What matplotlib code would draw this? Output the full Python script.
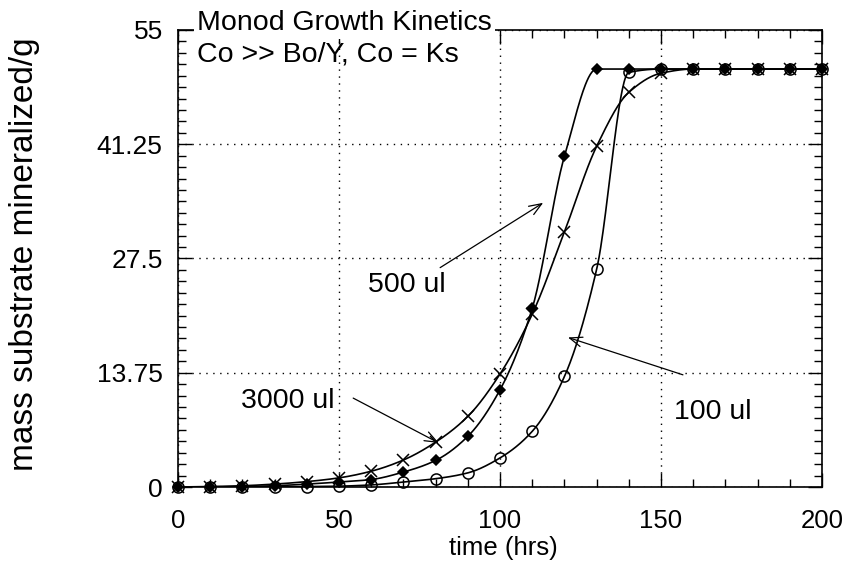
import numpy as np
import matplotlib.pyplot as plt
from matplotlib.ticker import MultipleLocator

# Data
t = np.arange(0, 201, 10)
m500 = [0, 0.02, 0.05, 0.15, 0.35, 0.6, 0.9, 1.8, 3.2, 6.1, 11.7, 21.5, 39.8, 50.3,
        50.3, 50.3, 50.3, 50.3, 50.3, 50.3, 50.3]
m3000 = [0, 0.05, 0.15, 0.35, 0.65, 1.1, 1.9, 3.25, 5.4, 8.5, 13.6, 20.8, 30.7, 41.0,
         47.5, 49.8, 50.3, 50.3, 50.3, 50.3, 50.3]
m100 = [0, 0, 0.01, 0.02, 0.05, 0.1, 0.25, 0.6, 1.0, 1.7, 3.5, 6.7, 13.3, 26.2,
        49.9, 50.3, 50.3, 50.3, 50.3, 50.3, 50.3]
yticks = [0, 13.75, 27.5, 41.25, 55]


def pchip(x, y, xn):
    # monotone cubic through the measured points, only used to draw the curve
    x = np.asarray(x, float)
    y = np.asarray(y, float)
    h = np.diff(x)
    d = np.diff(y) / h
    m = np.zeros_like(y)
    for k in range(1, len(x) - 1):
        if d[k - 1] * d[k] > 0:
            w1 = 2 * h[k] + h[k - 1]
            w2 = h[k] + 2 * h[k - 1]
            m[k] = (w1 + w2) / (w1 / d[k - 1] + w2 / d[k])
    m[0] = d[0]
    m[-1] = d[-1]
    i = np.clip(np.searchsorted(x, xn) - 1, 0, len(x) - 2)
    s = (xn - x[i]) / h[i]
    h00 = 2 * s ** 3 - 3 * s ** 2 + 1
    h10 = s ** 3 - 2 * s ** 2 + s
    h01 = -2 * s ** 3 + 3 * s ** 2
    h11 = s ** 3 - s ** 2
    return h00 * y[i] + h10 * h[i] * m[i] + h01 * y[i + 1] + h11 * h[i] * m[i + 1]


plt.rcParams['font.family'] = ['Liberation Sans', 'DejaVu Sans']
fig = plt.figure(figsize=(8.53, 5.69), dpi=100)
ax = fig.add_axes([0.2087, 0.1441, 0.755, 0.8032])

tt = np.linspace(0, 200, 801)
for vals, mk, ms, mfc in [(m100, 'o', 8, 'none'), (m3000, 'x', 9, 'k'), (m500, 'D', 5, 'k')]:
    ax.plot(tt, pchip(t, vals, tt), color='k', linewidth=1.2)
    ax.plot(t, vals, linestyle='none', marker=mk, markersize=ms, markerfacecolor=mfc,
            markeredgecolor='k', markeredgewidth=1.1, clip_on=False)

ax.set_xlim(0, 200)
ax.set_ylim(0, 55)
ax.set_xticks([0, 50, 100, 150, 200])
ax.set_yticks(yticks)
ax.set_yticklabels(['0', '13.75', '27.5', '41.25', '55'])
ax.xaxis.set_minor_locator(MultipleLocator(10))
ax.yaxis.set_minor_locator(MultipleLocator(1.375))
ax.tick_params(which='both', direction='in', top=True, right=True, width=1)
ax.tick_params(which='major', length=10, labelsize=19)
ax.tick_params(axis='x', which='major', pad=16, labelsize=18.5)
ax.tick_params(axis='y', which='major', pad=11)
ax.tick_params(which='minor', length=6)
for s in ax.spines.values():
    s.set_linewidth(1.2)
ax.grid(True, which='major', color='k', linestyle=(0, (1, 4)), linewidth=1)

ax.set_xlabel('time (hrs)', fontsize=18.5)
ax.xaxis.set_label_coords(0.505, -0.108)
ax.set_ylabel('mass substrate mineralized/g', fontsize=24)
ax.yaxis.set_label_coords(-0.215, 0.51)

ax.text(0.0295, 1.0, 'Monod Growth Kinetics', transform=ax.transAxes, fontsize=20.5,
        ha='left', va='baseline', zorder=5,
        bbox=dict(facecolor='white', edgecolor='none', pad=2))
ax.text(0.0295, 0.93, 'Co >> Bo/Y, Co = Ks', transform=ax.transAxes, fontsize=20.5,
        ha='left', va='baseline', zorder=5)

arrow = dict(arrowstyle='->,head_length=0.9,head_width=0.35', color='k', linewidth=0.9,
             shrinkA=0, shrinkB=0)
ax.annotate('', xy=(113.4, 34.2), xytext=(81.4, 26.4), arrowprops=arrow)
ax.text(71, 24.3, '500 ul', fontsize=20.5, ha='center', va='center')
ax.annotate('', xy=(81.0, 5.3), xytext=(54.4, 10.7), arrowprops=arrow)
ax.text(34.2, 10.4, '3000 ul', fontsize=20.5, ha='center', va='center')
ax.annotate('', xy=(121.1, 18.0), xytext=(156.8, 13.5), arrowprops=arrow)
ax.text(166, 9.0, '100 ul', fontsize=20.5, ha='center', va='center')

fig.savefig('out.png', dpi=100)
